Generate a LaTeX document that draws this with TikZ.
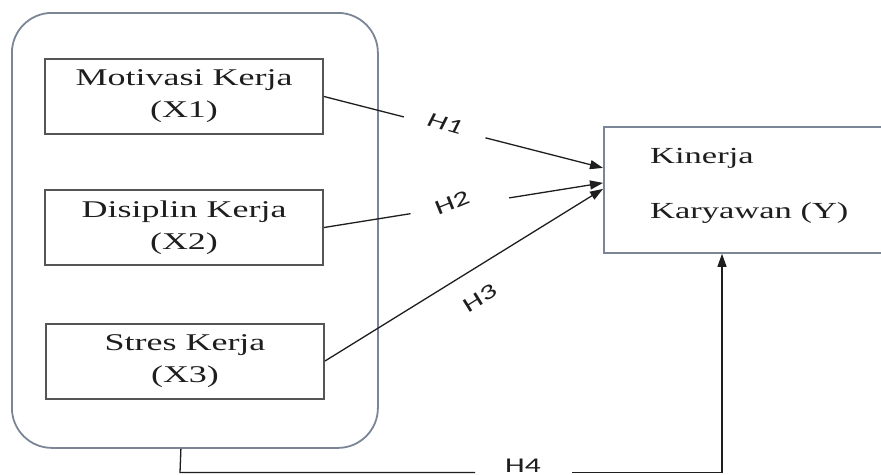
\documentclass[tikz,border=0pt]{standalone}
\usepackage{fontspec}
\setmainfont[FakeStretch=1.5]{Liberation Serif}
\newfontfamily\hfont[FakeStretch=1.5]{Carlito}
\usetikzlibrary{calc,arrows.meta}
\definecolor{boxblue}{RGB}{122,134,150}
\definecolor{boxgray}{RGB}{85,85,85}
\definecolor{linecol}{RGB}{30,30,30}
\begin{document}
\begin{tikzpicture}[x=1pt,y=-1pt,
  outerbox/.style={draw=boxblue,line width=1.8pt,rounded corners=40pt,inner sep=0pt},
  varbox/.style={draw=boxgray,line width=2pt,minimum width=278pt,minimum height=75pt,
    align=center,font=\fontsize{24}{32}\selectfont,inner sep=0pt,text=linecol},
  ybox/.style={draw=boxblue,line width=1.8pt,minimum width=300pt,minimum height=126pt,
    anchor=north west,inner sep=0pt},
  ytext/.style={anchor=base west,font=\fontsize{23}{23}\selectfont,inner sep=0pt,text=linecol},
  conn/.style={draw=linecol,line width=1.3pt},
  arr/.style={conn,-{Triangle[length=13pt,width=9pt]}},
  hlab/.style={font=\hfont\fontsize{21}{21}\selectfont,text=linecol,inner sep=0pt},
]
\useasboundingbox (0,0) rectangle (881,474);
\fill[white] (0,0) rectangle (881,474);

% outer group
\node[outerbox,minimum width=366pt,minimum height=435pt,anchor=north west] (outer) at (11,12) {};

% variable boxes
\node[varbox] (x1) at (184,96.5) {Motivasi Kerja\\(X1)};
\node[varbox] (x2) at (184,227.5) {Disiplin Kerja\\(X2)};
\node[varbox] (x3) at (185,361) {Stres Kerja\\(X3)};

% dependent box
\node[ybox] (y) at (603,126) {};
\node[ytext] (k1) at (650,163) {Kinerja};
\node[ytext] (k2) at (650,218) {Karyawan (Y)};

% arrow end points on Y
\coordinate (e1) at ([yshift=22pt]y.west);
\coordinate (e2) at ([yshift=7pt]y.west);
\coordinate (e3) at ([yshift=1pt]y.west);

% H1
\draw[conn] (x1.east) -- ($(x1.east)!0.286!(e1)$);
\draw[arr] ($(x1.east)!0.579!(e1)$) -- (e1);
\node[hlab,rotate=-16,font=\hfont\itshape\fontsize{21}{21}\selectfont] (h1) at (445,124) {H1};

% H2
\draw[conn] (x2.east) -- ($(x2.east)!0.31!(e2)$);
\draw[arr] ($(x2.east)!0.664!(e2)$) -- (e2);
\node[hlab,rotate=22] (h2) at (452,203) {H2};

% H3
\draw[arr] (x3.east) -- (e3);
\node[hlab,rotate=32] (h3) at (480,298) {H3};

% H4
\coordinate (s4) at ([xshift=-14pt]outer.south);
\coordinate (b4) at (180,472.5);
\coordinate (c4) at (722,472.5);
\node[hlab] (h4) at (523,466) {H4};
\draw[conn] (s4) -- (b4) -- (475,472.5);
\draw[arr] (572,472.5) -- (c4) -- (c4 |- y.south);
\end{tikzpicture}
\end{document}
